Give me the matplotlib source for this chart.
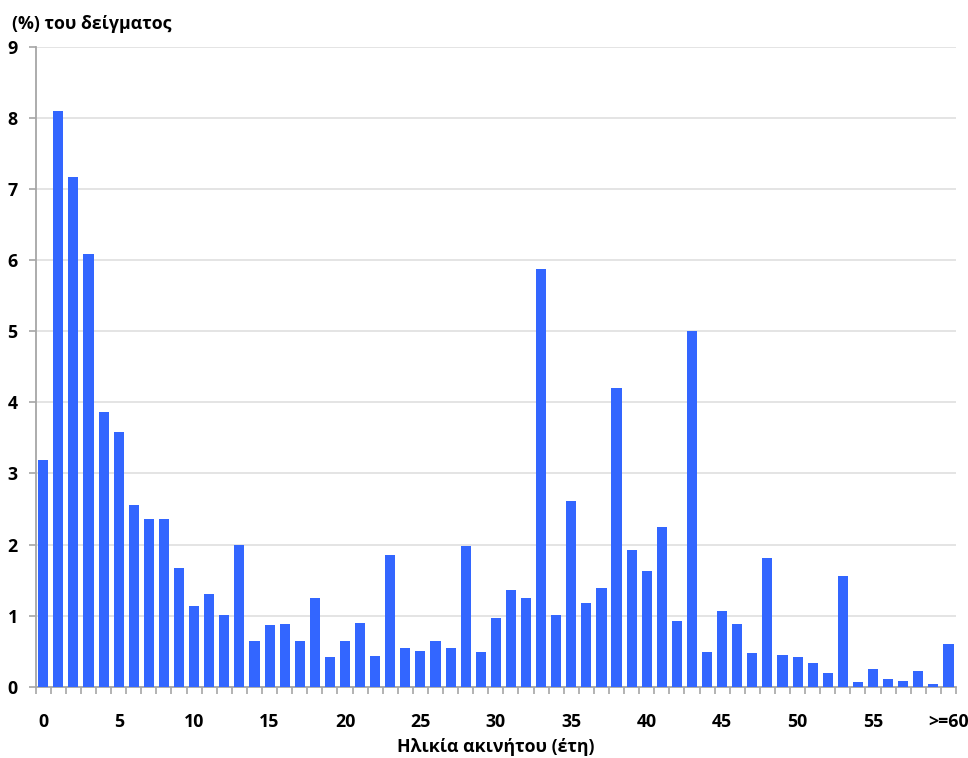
import matplotlib
matplotlib.use("Agg")
import matplotlib.pyplot as plt
import numpy as np

# Share of the sample by building age (years); last bin is 60 and over
age_labels = [str(a) for a in range(60)] + [">=60"]
share_pct = [3.19, 8.10, 7.17, 6.09, 3.86, 3.58, 2.56, 2.36, 2.36, 1.67,
             1.13, 1.30, 1.01, 1.99, 0.64, 0.87, 0.88, 0.64, 1.25, 0.42,
             0.64, 0.90, 0.43, 1.85, 0.54, 0.50, 0.64, 0.54, 1.98, 0.49,
             0.97, 1.36, 1.25, 5.88, 1.01, 2.61, 1.18, 1.39, 4.20, 1.92,
             1.63, 2.25, 0.92, 5.00, 0.49, 1.06, 0.88, 0.47, 1.81, 0.45,
             0.42, 0.33, 0.19, 1.56, 0.07, 0.25, 0.11, 0.08, 0.22, 0.04,
             0.60]
labelled_ages = [0, 5, 10, 15, 20, 25, 30, 35, 40, 45, 50, 55, 60]
y_ticks = list(range(10))

plt.rcParams['font.family'] = ['Open Sans', 'DejaVu Sans']
plt.rcParams['font.weight'] = 'bold'

fig = plt.figure(figsize=(9.68, 7.58), dpi=100)
ax = fig.add_axes([0.0369, 0.094, 0.9507, 0.844])

x = np.arange(len(share_pct))
ax.bar(x, share_pct, width=0.67, color='#3366FF', zorder=3)

ax.set_xlim(-0.5, len(share_pct) - 0.5)
ax.set_ylim(0, 9)
ax.set_yticks(y_ticks)
ax.set_yticklabels([str(v) for v in y_ticks], fontsize=12.8, fontweight='bold')
ax.yaxis.grid(True, color='#E2E2E2', linewidth=1.3, zorder=0)

# labels under every fifth category, tick marks on the category boundaries
ax.set_xticks(labelled_ages)
ax.set_xticklabels([age_labels[i] for i in labelled_ages], fontsize=12.8, fontweight='bold')
ax.set_xticks(np.arange(-0.5, len(share_pct)), minor=True)
ax.tick_params(axis='x', which='major', length=0, pad=19)
ax.tick_params(axis='x', which='minor', length=5, width=1.2, color='#A6A6A6')
ax.tick_params(axis='y', length=5, width=1.2, color='#A6A6A6', pad=8)

for side in ['top', 'right']:
    ax.spines[side].set_visible(False)
for side in ['left', 'bottom']:
    ax.spines[side].set_color('#A6A6A6')
    ax.spines[side].set_linewidth(1.3)

ax.set_xlabel('Ηλικία ακινήτου (έτη)', fontsize=12.8, fontweight='bold', labelpad=5)
fig.text(0.012, 1 - 24 / 758, '(%) του δείγματος', fontsize=12.8,
         fontweight='bold', ha='left', va='center')

fig.savefig('out.png', dpi=100)
